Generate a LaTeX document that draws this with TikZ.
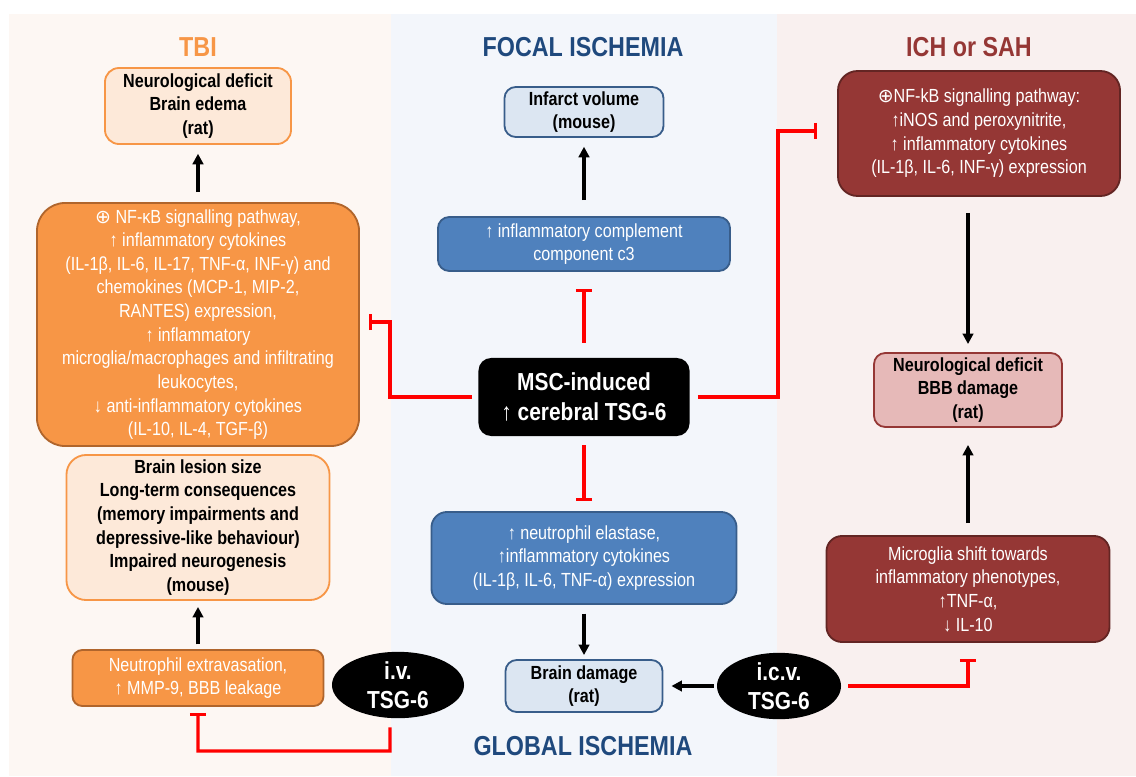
\documentclass[tikz,border=0pt]{standalone}
\usepackage{fontspec}
\setmainfont{Liberation Sans}[FakeStretch=0.85]
\newfontfamily\symfont{DejaVu Sans}
\usetikzlibrary{arrows.meta, shapes.geometric}
\usepackage{xcolor}
\definecolor{cOrange}{HTML}{F79646}
\definecolor{cOrangeDk}{HTML}{B0652C}
\definecolor{cPeach}{HTML}{FDE9D9}
\definecolor{cBlue}{HTML}{4F81BD}
\definecolor{cBlueDk}{HTML}{385D8A}
\definecolor{cBlueLt}{HTML}{DCE6F2}
\definecolor{cNavy}{HTML}{1F497D}
\definecolor{cWine}{HTML}{953735}
\definecolor{cWineDk}{HTML}{632523}
\definecolor{cPink}{HTML}{E6B9B8}
\definecolor{cPanelL}{HTML}{FDF7F3}
\definecolor{cPanelC}{HTML}{F3F6FB}
\definecolor{cPanelR}{HTML}{F9F0EF}
\definecolor{cInh}{HTML}{FF0000}

\begin{document}
\begin{tikzpicture}[
  x=0.025cm, y=-0.025cm,
  title/.style={font=\bfseries\fontsize{19.5}{22}\selectfont},
  zbox/.style={rectangle, draw, line width=1.3pt, align=center, inner sep=2pt,
               font=\fontsize{13.5}{16.8}\selectfont},
  lightor/.style={zbox, fill=cPeach, draw=cOrange, font=\bfseries\fontsize{13.5}{16.8}\selectfont},
  darkor/.style={zbox, fill=cOrange, draw=cOrangeDk, text=white},
  lightbl/.style={zbox, fill=cBlueLt, draw=cBlueDk, rounded corners=8pt, font=\bfseries\fontsize{13.5}{16.8}\selectfont},
  darkbl/.style={zbox, fill=cBlue, draw=cBlueDk, text=white},
  darkrd/.style={zbox, fill=cWine, draw=cWineDk, text=white},
  lightrd/.style={zbox, fill=cPink, draw=cWine, rounded corners=8pt, font=\bfseries\fontsize{13.5}{16.8}\selectfont},
  drug/.style={ellipse, fill=black, text=white, inner sep=0pt, align=center,
               font=\bfseries\fontsize{17.5}{20.5}\selectfont},
  arr/.style={-{Triangle[length=7.5pt, width=7.5pt]}, line width=2.4pt, color=black},
  inh/.style={-{Bar[width=11.5pt]}, line width=2.4pt, color=cInh},
]
\useasboundingbox (0,0) rectangle (1136,776);
\fill[white] (0,0) rectangle (1136,776);
\fill[cPanelL] (9,14) rectangle (391,776);
\fill[cPanelC] (391,14) rectangle (777,776);
\fill[cPanelR] (777,14) rectangle (1136,776);

\node[title, text=cOrange] (tTBI) at (198,47) {TBI};
\node[title, text=cNavy] (tFocal) at (583,47) {FOCAL ISCHEMIA};
\node[title, text=cWine] (tICH) at (969,47) {ICH or SAH};
\node[title, text=cNavy] (tGlobal) at (583,746) {GLOBAL ISCHEMIA};

\node[lightor, rounded corners=10pt, minimum width=4.65cm, minimum height=1.9cm] (deficitTBI) at (198,106)
  {Neurological deficit\\Brain edema\\(rat)};
\node[darkor, rounded corners=20pt, minimum width=8.05cm, minimum height=6.075cm] (nfkbTBI) at (198,324.5)
  {{\symfont ⊕} NF-κB signalling pathway,\\↑ inflammatory cytokines\\(IL-1β, IL-6, IL-17, TNF-α, INF-γ) and\\chemokines (MCP-1, MIP-2,\\RANTES) expression,\\↑ inflammatory\\microglia/macrophages and infiltrating\\leukocytes,\\↓ anti-inflammatory cytokines\\(IL-10, IL-4, TGF-β)};
\node[lightor, rounded corners=14pt, minimum width=6.575cm, minimum height=3.625cm] (lesionTBI) at (198,527.5)
  {Brain lesion size\\Long-term consequences\\(memory impairments and\\depressive-like behaviour)\\Impaired neurogenesis\\(mouse)};
\node[darkor, rounded corners=7pt, minimum width=6.275cm, minimum height=1.4cm] (neutroTBI) at (198,678)
  {Neutrophil extravasation,\\↑ MMP-9, BBB leakage};
\node[drug, minimum width=3.3cm, minimum height=1.65cm] (ivTSG) at (398,685) {i.v.\\TSG-6};

\node[lightbl, minimum width=3.975cm, minimum height=1.25cm] (infarct) at (584,112)
  {Infarct volume\\(mouse)};
\node[darkbl, rounded corners=8pt, minimum width=7.3cm, minimum height=1.35cm] (complement) at (584,244)
  {↑ inflammatory complement\\component c3};
\node[rectangle, rounded corners=9pt, fill=black, text=white, align=center,
      font=\bfseries\fontsize{17.5}{21}\selectfont, minimum width=5.275cm, minimum height=1.95cm] (msc) at (584,397)
  {MSC-induced\\↑ cerebral TSG-6};
\node[darkbl, rounded corners=11pt, minimum width=7.625cm, minimum height=2.3cm] (elastase) at (584,558)
  {↑ neutrophil elastase,\\↑inflammatory cytokines\\(IL-1β, IL-6, TNF-α) expression};
\node[lightbl, minimum width=3.925cm, minimum height=1.3cm] (braindmg) at (584,686)
  {Brain damage\\(rat)};
\node[drug, minimum width=3.1cm, minimum height=1.65cm] (icvTSG) at (779,686) {i.c.v.\\TSG-6};

\node[darkrd, rounded corners=14pt, minimum width=7.05cm, minimum height=3.125cm] (nfkbICH) at (979,133.5)
  {{\symfont ⊕}NF-kB signalling pathway:\\↑iNOS and peroxynitrite,\\↑ inflammatory cytokines\\(IL-1β, IL-6, INF-γ) expression};
\node[lightrd, minimum width=4.7cm, minimum height=1.85cm] (deficitICH) at (968,390)
  {Neurological deficit\\BBB damage\\(rat)};
\node[darkrd, rounded corners=11pt, minimum width=7.075cm, minimum height=2.65cm] (microglia) at (968,589)
  {Microglia shift towards\\inflammatory phenotypes,\\↑TNF-α,\\↓ IL-10};

\coordinate (ivbend) at (390,751);
\coordinate (tbibend) at (390,322);
\coordinate (ichbend) at (778,131);

\draw[arr, shorten <=2.5mm, shorten >=2.2mm] (nfkbTBI) -- (deficitTBI);
\draw[arr, shorten <=1.2mm, shorten >=1.5mm] (neutroTBI) -- (lesionTBI);
\draw[inh] ([xshift=-2mm, yshift=-2.2mm]ivTSG.south) -- (ivbend) -| ([yshift=-1.5mm]neutroTBI.south);
\draw[inh] ([xshift=-1.5mm]msc.west) -| (tbibend) -- ([xshift=2.25mm]nfkbTBI.east |- tbibend);
\draw[inh] ([xshift=2mm]msc.east) -| (ichbend) -- ([xshift=-5mm]nfkbICH.west |- ichbend);
\draw[inh, shorten <=3.75mm, shorten >=4.25mm] (msc) -- (complement);
\draw[inh, shorten <=2.25mm, shorten >=2.5mm] (msc) -- (elastase);
\draw[arr, shorten <=4mm, shorten >=2.2mm] (complement) -- (infarct);
\draw[arr, shorten <=2.2mm, shorten >=1mm] (elastase) -- (braindmg);
\draw[arr, shorten <=0.75mm, shorten >=2mm] (icvTSG) -- (braindmg);
\draw[inh] ([xshift=1.75mm]icvTSG.east) -| ([yshift=-4mm]microglia.south);
\draw[arr, shorten <=4mm, shorten >=2mm] (deficitICH.north |- nfkbICH.south) -- (deficitICH.north);
\draw[arr, shorten <=3mm, shorten >=4.25mm] (microglia) -- (deficitICH);
\end{tikzpicture}
\end{document}
